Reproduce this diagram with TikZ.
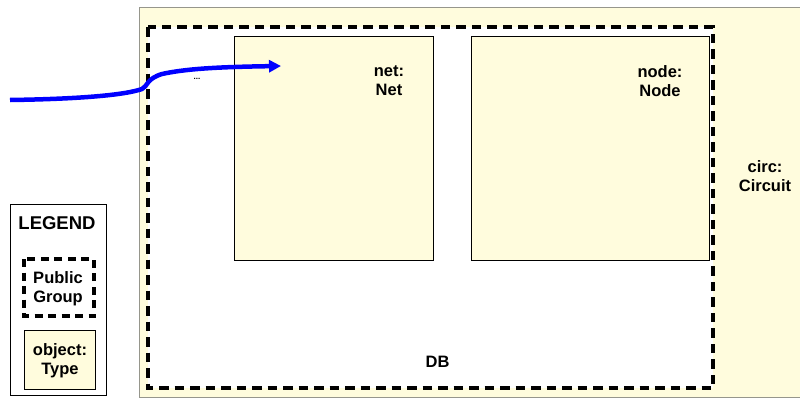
\documentclass[tikz,border=0pt]{standalone}
\usepackage{fontspec}
\setmainfont{Liberation Sans}
\usetikzlibrary{arrows.meta}
\definecolor{objfill}{RGB}{255,252,221}
\definecolor{frame}{RGB}{150,150,140}
\begin{document}
\begin{tikzpicture}[x=1pt,y=-1pt,
  lbl/.style={font=\bfseries\fontsize{16.5}{19}\selectfont, align=center, inner sep=0pt},
  objbox/.style={draw=black, line width=0.8pt, fill=objfill},
  groupbox/.style={draw=black, line width=3.4pt, dash pattern=on 9.5pt off 6pt},
  flow/.style={draw=blue, line width=4.5pt, -{Triangle[length=12pt,width=12pt]}}]
\useasboundingbox (0,0) rectangle (800,399);
% circuit object
\path[fill=objfill] (139,7) rectangle (810,397);
\draw[frame, line width=0.9pt] (810,7) -- (139,7) -- (139,397) -- (810,397);
\node[lbl] (circ) at (765,176) {circ:\\Circuit};
% DB public group
\path[fill=white] (148,27) rectangle (713,388);
\draw[groupbox] (148,27) rectangle (713,388);
\node[lbl] (db) at (437.5,362) {DB};
% net and node objects
\draw[objbox] (234,36) rectangle (433,260);
\node[lbl] (net) at (389,81) {net:\\Net};
\draw[objbox] (471,36) rectangle (709,260);
\node[lbl] (node) at (660,81) {node:\\Node};
\node[font=\bfseries\fontsize{8}{9}\selectfont, inner sep=0pt] (dots) at (197,79) {...};
% incoming reference
\coordinate (src) at (10,100);
\coordinate (dst) at (281,66);
\draw[flow] (src) .. controls (80,99) and (125,95) .. (142,89)
  .. controls (148,86) and (146,79) .. (162,74)
  .. controls (185,69) and (215,67) .. (dst);
% legend
\draw[black, line width=0.8pt] (10,204) rectangle (106,395);
\node[lbl, font=\bfseries\fontsize{18.5}{21}\selectfont] (legend) at (57,223.5) {LEGEND};
\draw[groupbox, line width=3.2pt, dash pattern=on 8pt off 5.5pt] (24,259) rectangle (94,316);
\node[lbl] (pub) at (58,289) {Public\\Group};
\draw[objbox] (24,330) rectangle (95,389);
\node[lbl] (obj) at (60,361) {object:\\Type};
\end{tikzpicture}
\end{document}
